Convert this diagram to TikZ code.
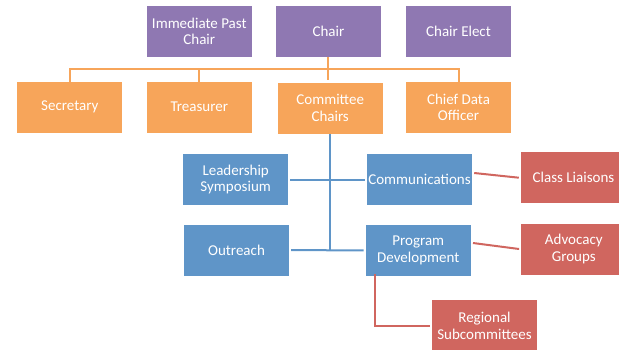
\documentclass[tikz,border=0pt]{standalone}
\usepackage{fontspec}
\setmainfont{Carlito}
\usepackage{tikz}
\definecolor{boxpurple}{HTML}{8F78B2}
\definecolor{boxorange}{HTML}{F7A55A}
\definecolor{boxblue}{HTML}{5F95C8}
\definecolor{boxred}{HTML}{D0665F}
\begin{document}
\begin{tikzpicture}[x=1pt, y=-1pt,
  box/.style={draw=none, text=white, align=center, inner sep=0pt, minimum width=105pt, minimum height=51pt, font=\fontsize{15}{16.7}\selectfont},
  purplebox/.style={box, fill=boxpurple},
  orangebox/.style={box, fill=boxorange},
  bluebox/.style={box, fill=boxblue},
  redbox/.style={box, fill=boxred},
  orangeline/.style={draw=boxorange, line width=2pt},
  blueline/.style={draw=boxblue, line width=2pt},
  redline/.style={draw=boxred, line width=2pt}]
\useasboundingbox (0, 0) rectangle (619, 349);
%Officers
\node [purplebox] (ipc) at (199.3, 31.2) {Immediate Past\\Chair};
\node [purplebox] (chair) at (328.4, 31.2) {Chair};
\node [purplebox] (elect) at (458.5, 31.2) {Chair Elect};
\node [orangebox] (sec) at (69.8, 107.2) {Secretary};
\node [orangebox] (tre) at (199.3, 107.2) {Treasurer};
\node [orangebox] (cc) at (330.2, 108.2) {Committee\\Chairs};
\node [orangebox] (cdo) at (458.5, 107.2) {Chief Data\\Officer};
%Committees
\node [bluebox] (ls) at (235.7, 179.5) {Leadership\\Symposium};
\node [bluebox] (out) at (236.5, 250) {Outreach};
\node [bluebox] (comm) at (419.5, 179.5) {Communications};
\node [bluebox] (pd) at (418.3, 250.5) {Program\\Development};
\node [redbox] (cl) at (573.5, 177.7) {Class Liaisons};
\node [redbox] (ag) at (573.8, 249) {Advocacy\\Groups};
\node [redbox] (reg) at (484.5, 325.5) {Regional\\Subcommittees};
%Lines
\coordinate (bus) at (0, 69);
\coordinate (trunk) at (330, 250);
\draw [orangeline] (chair.south) -- ++(0, 23);
\draw [orangeline] (sec.north) -- (sec.north |- bus) -- (cdo.north |- bus) -- (cdo.north);
\draw [orangeline] (tre.north) -- (tre.north |- bus);
\draw [blueline] (trunk |- cc.south) -- (trunk);
\draw [blueline, shorten <=2pt, shorten >=2pt] (ls.east) -- (comm.west);
\draw [blueline, shorten <=2pt, shorten >=2pt] (out.east) -- (pd.west);
\draw [redline] ([xshift=2pt, yshift=6.5pt]comm.east) -- ([xshift=-2pt]cl.west);
\draw [redline] ([xshift=2pt, yshift=7.5pt]pd.east) -- ([xshift=-2pt]ag.west);
\draw [redline] ([xshift=9pt, yshift=2pt]pd.south west) |- ([xshift=-2pt]reg.west);
\end{tikzpicture}
\end{document}
